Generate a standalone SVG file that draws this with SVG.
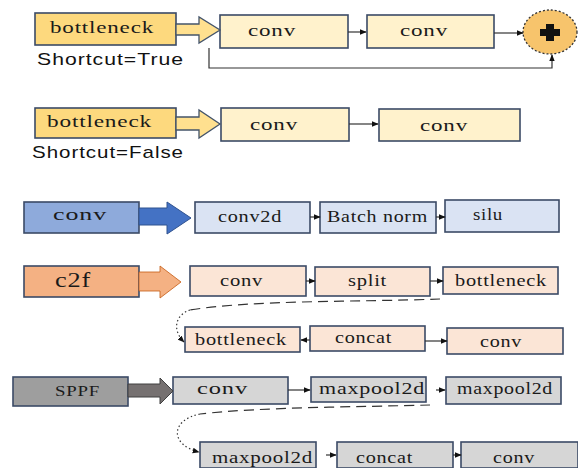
<svg xmlns="http://www.w3.org/2000/svg" width="578" height="468" viewBox="0 0 578 468">
<defs>
<style>
.t{font-family:"Liberation Serif","DejaVu Serif",serif;font-size:17px;fill:#1a1a1a;letter-spacing:0.6px}
.s{font-family:"Liberation Sans",Arial,sans-serif;font-size:17px;fill:#111;letter-spacing:0.8px}
.b{stroke:#3b4a66;stroke-width:1.6}
.y1{fill:#fdd97e}.y2{fill:#fff2cc}
.bl1{fill:#8eaadb}.bl2{fill:#dae3f3}
.o1{fill:#f4b183}.o2{fill:#fbe5d6}
.g1{fill:#9e9e9e}.g2{fill:#d6d6d6}
.c{stroke:#333;stroke-width:1.2;fill:none}
.d{stroke:#333;stroke-width:1.2;fill:none;stroke-dasharray:10 6}
</style>
<marker id="ah" viewBox="0 0 10 10" refX="9" refY="5" markerWidth="7" markerHeight="7" orient="auto" markerUnits="userSpaceOnUse"><path d="M0,1 L10,5 L0,9 Z" fill="#111"/></marker>
</defs>

<g id="row1">
<g id="bneck1"><rect class="b y1" x="35" y="13" width="141" height="32"/><text class="t" x="50" y="33" textLength="104" lengthAdjust="spacingAndGlyphs">bottleneck</text></g>
<text class="s" x="37" y="65" textLength="147" lengthAdjust="spacingAndGlyphs">Shortcut=True</text>
<g id="conv1a"><rect class="b y2" x="220" y="15" width="128" height="33"/><text class="t" x="248" y="36" textLength="48" lengthAdjust="spacingAndGlyphs">conv</text></g>
<g id="conv1b"><rect class="b y2" x="367" y="15" width="127" height="33"/><text class="t" x="400" y="36" textLength="48" lengthAdjust="spacingAndGlyphs">conv</text></g>
<g id="add"><ellipse cx="550" cy="32" rx="27" ry="22" fill="#f7c46c" stroke="#333" stroke-width="1.3" stroke-dasharray="2 2"/><path d="M546,24 h8 v5 h6 v7 h-6 v5 h-8 v-5 h-6 v-7 h6 z" fill="#111"/></g>
</g>

<g id="row2">
<g id="bneck2"><rect class="b y1" x="35" y="108" width="141" height="30"/><text class="t" x="47" y="127" textLength="105" lengthAdjust="spacingAndGlyphs">bottleneck</text></g>
<text class="s" x="32" y="158" textLength="152" lengthAdjust="spacingAndGlyphs">Shortcut=False</text>
<g id="conv2a"><rect class="b y2" x="221" y="108" width="128" height="33"/><text class="t" x="250" y="130" textLength="48" lengthAdjust="spacingAndGlyphs">conv</text></g>
<g id="conv2b"><rect class="b y2" x="379" y="109" width="141" height="32"/><text class="t" x="420" y="131" textLength="48" lengthAdjust="spacingAndGlyphs">conv</text></g>
</g>

<g id="row3">
<g id="convblk"><rect class="b bl1" x="24" y="202" width="115" height="31"/><text class="t" x="53" y="220" textLength="54" lengthAdjust="spacingAndGlyphs">conv</text></g>
<g id="conv2d"><rect class="b bl2" x="195" y="202" width="115" height="31"/><text class="t" x="218" y="222" textLength="64" lengthAdjust="spacingAndGlyphs">conv2d</text></g>
<g id="bn"><rect class="b bl2" x="320" y="202" width="116" height="31"/><text class="t" x="327" y="222" textLength="101" lengthAdjust="spacingAndGlyphs">Batch norm</text></g>
<g id="silu"><rect class="b bl2" x="445" y="200" width="114" height="32"/><text class="t" x="473" y="220" textLength="30" lengthAdjust="spacingAndGlyphs">silu</text></g>
</g>

<g id="row4">
<g id="c2f"><rect class="b o1" x="24" y="266" width="115" height="31"/><text class="t" x="55" y="287" style="font-size:20px" textLength="36" lengthAdjust="spacingAndGlyphs">c2f</text></g>
<g id="conv4"><rect class="b o2" x="190" y="266" width="116" height="30"/><text class="t" x="220" y="286" textLength="43" lengthAdjust="spacingAndGlyphs">conv</text></g>
<g id="split"><rect class="b o2" x="315" y="267" width="115" height="29"/><text class="t" x="348" y="286" textLength="39" lengthAdjust="spacingAndGlyphs">split</text></g>
<g id="bneck4"><rect class="b o2" x="443" y="267" width="115" height="27"/><text class="t" x="455" y="286" textLength="92" lengthAdjust="spacingAndGlyphs">bottleneck</text></g>
<g id="bneck5"><rect class="b o2" x="185" y="327" width="115" height="25"/><text class="t" x="195" y="345" textLength="92" lengthAdjust="spacingAndGlyphs">bottleneck</text></g>
<g id="concat5"><rect class="b o2" x="310" y="326" width="115" height="25"/><text class="t" x="335" y="343" textLength="57" lengthAdjust="spacingAndGlyphs">concat</text></g>
<g id="conv5"><rect class="b o2" x="447" y="328" width="116" height="26"/><text class="t" x="480" y="347" textLength="42" lengthAdjust="spacingAndGlyphs">conv</text></g>
</g>

<g id="row6">
<g id="sppf"><rect class="b g1" x="13" y="377" width="115" height="29"/><text class="t" x="55" y="396" style="font-size:15px" textLength="45" lengthAdjust="spacingAndGlyphs">SPPF</text></g>
<g id="conv6"><rect class="b g2" x="173" y="377" width="115" height="27"/><text class="t" x="197" y="394" textLength="51" lengthAdjust="spacingAndGlyphs">conv</text></g>
<g id="mp1"><rect class="b g2" x="311" y="377" width="115" height="25"/><text class="t" x="319" y="394" textLength="106" lengthAdjust="spacingAndGlyphs">maxpool2d</text></g>
<g id="mp2"><rect class="b g2" x="446" y="377" width="115" height="27"/><text class="t" x="457" y="394" textLength="96" lengthAdjust="spacingAndGlyphs">maxpool2d</text></g>
<g id="mp3"><rect class="b g2" x="200" y="442" width="116" height="26"/><text class="t" x="212" y="463" textLength="101" lengthAdjust="spacingAndGlyphs">maxpool2d</text></g>
<g id="concat7"><rect class="b g2" x="337" y="442" width="116" height="26"/><text class="t" x="356" y="463" textLength="57" lengthAdjust="spacingAndGlyphs">concat</text></g>
<g id="conv7"><rect class="b g2" x="461" y="442" width="117" height="26"/><text class="t" x="493" y="463" textLength="42" lengthAdjust="spacingAndGlyphs">conv</text></g>
</g>

<g id="connectors">
<path d="M176,24 H199 V17 L220,30 L199,43 V35 H176 Z" fill="#ffe08f" stroke="#44546a" stroke-width="1.3"/>
<path d="M176,117 H199 V110 L220,124 L199,138 V130 H176 Z" fill="#ffe08f" stroke="#44546a" stroke-width="1.3"/>
<path d="M139,208 H167 V202 L191,218 L167,234 V225 H139 Z" fill="#4472c4" stroke="#2f528f" stroke-width="1"/>
<path d="M139,272 H160 V266 L181,282 L160,298 V291 H139 Z" fill="#f4b183" stroke="#c55a11" stroke-width="0.8"/>
<path d="M128,384 H160 V378 L173,391 L160,404 V397 H128 Z" fill="#767171" stroke="#404040" stroke-width="1"/>
<path class="c" d="M348,32 H366" marker-end="url(#ah)"/>
<path class="c" d="M494,33 H523" marker-end="url(#ah)"/>
<path class="c" d="M209,48 V68 H552 V55" marker-end="url(#ah)"/>
<path class="c" d="M349,124 H378" marker-end="url(#ah)"/>
<path class="c" d="M310,217 H320" marker-end="url(#ah)"/>
<path class="c" d="M436,217 H445" marker-end="url(#ah)"/>
<path class="c" d="M306,281 H315" marker-end="url(#ah)"/>
<path class="c" d="M430,281 H443" marker-end="url(#ah)"/>
<path class="d" d="M440,299 C360,302 250,300 190,310" />
<path class="c" d="M190,310 C175,315 172,330 184,342" stroke-dasharray="1.5 2.5" marker-end="url(#ah)"/>
<path class="c" d="M310,340 H301" marker-end="url(#ah)"/>
<path class="c" d="M425,341 H447" marker-end="url(#ah)"/>
<path class="c" d="M288,390 H310" marker-end="url(#ah)"/>
<path class="c" d="M436,390 H445" marker-end="url(#ah)"/>
<path class="d" d="M430,405 C360,407 260,407 200,414" />
<path class="c" d="M200,414 C170,420 170,445 199,452" stroke-dasharray="1.5 2.5" marker-end="url(#ah)"/>
<path class="c" d="M326,455 H336" marker-end="url(#ah)"/>
<path class="c" d="M453,455 H461" marker-end="url(#ah)"/>
</g>
</svg>
